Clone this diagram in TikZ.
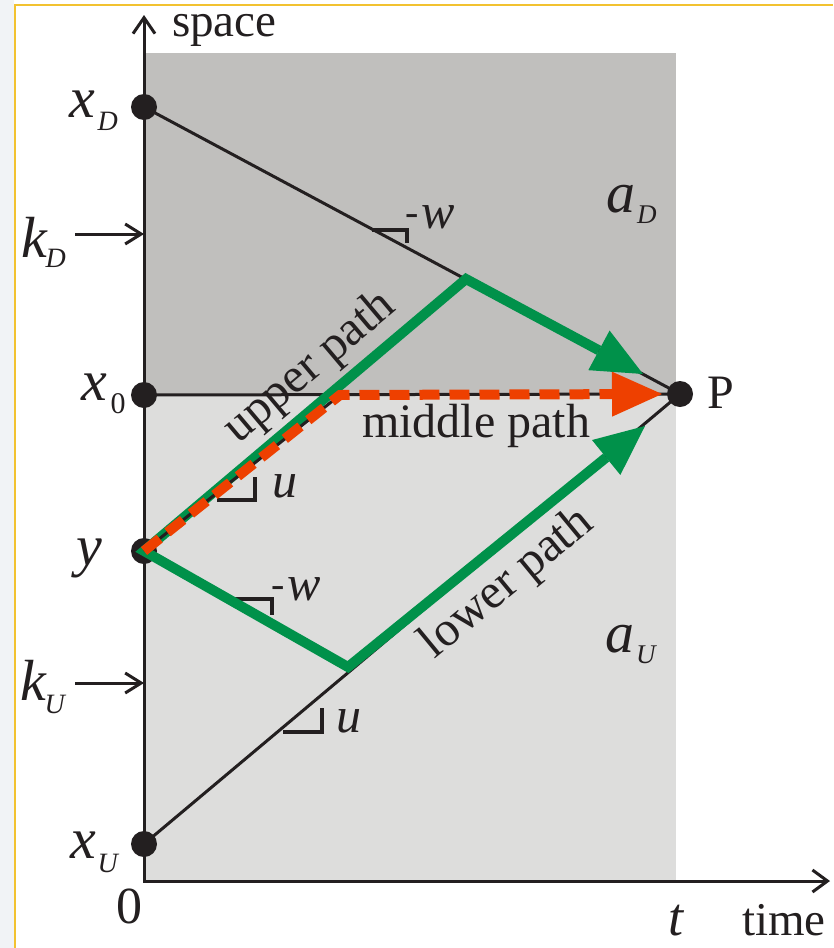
\documentclass[tikz,border=0pt]{standalone}
\usepackage{fontspec}
\setmainfont{Liberation Serif}
\usetikzlibrary{arrows.meta,calc}
\definecolor{ink}{HTML}{231F20}
\definecolor{darkreg}{HTML}{C0BFBD}
\definecolor{lightreg}{HTML}{DDDDDC}
\definecolor{pgreen}{HTML}{00914A}
\definecolor{porange}{HTML}{EE4000}
\definecolor{framecol}{HTML}{F2C230}
\definecolor{stripcol}{HTML}{F1F3F6}
\newcommand{\fsz}[1]{\fontsize{#1}{#1}\selectfont}
% main italic letter, subscript, kern, drop
\newcommand{\lbl}[4]{{\fsz{58}\textit{#1}}\kern#3\raisebox{-#4}{\fsz{28}\textit{#2}}}
\newcommand{\lblup}[4]{{\fsz{58}\textit{#1}}\kern#3\raisebox{-#4}{\fsz{30}#2}}
\tikzset{
  dot/.style={circle,fill=ink,minimum size=26pt,inner sep=0pt},
  blk/.style={draw=ink,line width=3pt},
  axisline/.style={draw=ink,line width=3pt,line join=miter},
  slopemark/.style={draw=ink,line width=3.6pt,line join=miter},
  greenpath/.style={draw=pgreen,line width=10pt,line join=miter},
  orangepath/.style={draw=porange,line width=10pt,dash pattern=on 20pt off 10pt},
  txt/.style={inner sep=0pt,outer sep=0pt,text=ink},
}
\begin{document}
\begin{tikzpicture}[x=1pt,y=-1pt]
\useasboundingbox (0,0) rectangle (833,948);
\fill[white] (0,0) rectangle (833,948);
\fill[stripcol] (0,0) rectangle (14.2,948);
\draw[framecol,line width=1.6pt] (15,948) -- (15,5) -- (833,5);
% regions
\fill[darkreg] (144,53) rectangle (676,395);
\fill[lightreg] (144,395) rectangle (676,881);
% named points
\coordinate (O) at (144,881);
\coordinate (ytop) at (144,15);
\coordinate (xend) at (830,881);
\coordinate (C1) at (466,279);
\coordinate (C2) at (348,667);
\coordinate (M) at (340,395);
\coordinate (tipU) at (643,374);
\coordinate (tipL) at (645,426);
\coordinate (tipO) at (662,394);
\coordinate (kDs) at (75,234);
\coordinate (kDe) at (144,234);
\coordinate (kUs) at (75,683);
\coordinate (kUe) at (144,683);
% axes
\draw[axisline,{Straight Barb[length=16pt,width=22pt]}-{Straight Barb[length=15pt,width=22pt]}] (ytop) -- (O) -- (xend);
\draw[blk,-{Straight Barb[length=16pt,width=20pt]}] (kDs) -- (kDe);
\draw[blk,-{Straight Barb[length=16pt,width=20pt]}] (kUs) -- (kUe);
% dots
\node[dot] (xD) at (144,107) {};
\node[dot] (x0) at (144,395) {};
\node[dot] (yy) at (144,551) {};
\node[dot] (xU) at (144,844) {};
\node[dot] (P) at (680,394) {};
% slope marks
\draw[slopemark] (372,230) -- (407,230) -- (407,243);
\draw[slopemark] (217,500) -- (255,500) -- (255,477);
\draw[slopemark] (233,599) -- (272,599) -- (272,615);
\draw[slopemark] (283,732) -- (322,732) -- (322,708);
% characteristic lines
\draw[blk] (xD.center) -- (P.center);
\draw[blk] (xU.center) -- (P.center);
\draw[blk] (x0.center) -- (P.center);
% green paths
\draw[greenpath,{Triangle[length=50pt,width=45pt,line width=0pt]}-{Triangle[length=50pt,width=45pt,line width=0pt]}]
  (tipU) -- (C1) -- (yy.center) -- (C2) -- (tipL);
\draw[blk] (yy.center) -- (M);
% orange middle path
\draw[orangepath,-{Triangle[length=50pt,width=45pt,line width=0pt]}] (yy.center) -- (M) -- (tipO);
% labels
\node[txt,anchor=base west] (lspace) at (172,36) {\fsz{47}space};
\node[txt,anchor=base west] (ltime) at (742,935) {\fsz{47}time};
\node[txt,anchor=base west] (lt) at (668,935) {\fsz{54}\textit{t}};
\node[txt,anchor=base west] (lzero) at (116,923) {\fsz{52}0};
\node[txt,anchor=base west] (lP) at (707,408) {\fsz{48}P};
\node[txt,anchor=base west] (lxD) at (69,117) {\lbl{x}{D}{3pt}{13pt}};
\node[txt,anchor=base west] (lkD) at (21,257) {\lbl{k}{D}{-2pt}{10pt}};
\node[txt,anchor=base west] (lx0) at (81,400) {\lblup{x}{0}{4pt}{13pt}};
\node[txt,anchor=base west] (ly) at (76,565) {\fsz{58}\textit{y}};
\node[txt,anchor=base west] (lkU) at (20,700) {\lbl{k}{U}{-2pt}{13pt}};
\node[txt,anchor=base west] (lxU) at (70,858) {\lbl{x}{U}{2pt}{14pt}};
\node[txt,anchor=base west] (laD) at (606,212) {{\fsz{58}\textit{a}}\kern2pt\raisebox{-11pt}{\fsz{27}\textit{D}}};
\node[txt,anchor=base west] (laU) at (605,652) {{\fsz{58}\textit{a}}\kern2pt\raisebox{-11pt}{\fsz{27}\textit{U}}};
\node[txt,anchor=base west] (lw1) at (405,228) {\raisebox{3pt}{\fsz{40}-}\kern3pt{\fsz{50}\textit{w}}};
\node[txt,anchor=base west] (lw2) at (271,600) {\raisebox{3pt}{\fsz{40}-}\kern3pt{\fsz{50}\textit{w}}};
\node[txt,anchor=base west] (lu1) at (272,497) {\fsz{50}\textit{u}};
\node[txt,anchor=base west] (lu2) at (336,732) {\fsz{50}\textit{u}};
\node[txt,anchor=base west] (lmid) at (362,437) {\fsz{48}middle path};
\node[txt,anchor=base,rotate=40.2] (lup) at (318,377) {\fsz{49}upper path};
\node[txt,anchor=base,rotate=39.5] (llow) at (515,593) {\fsz{49}lower path};
\end{tikzpicture}
\end{document}
